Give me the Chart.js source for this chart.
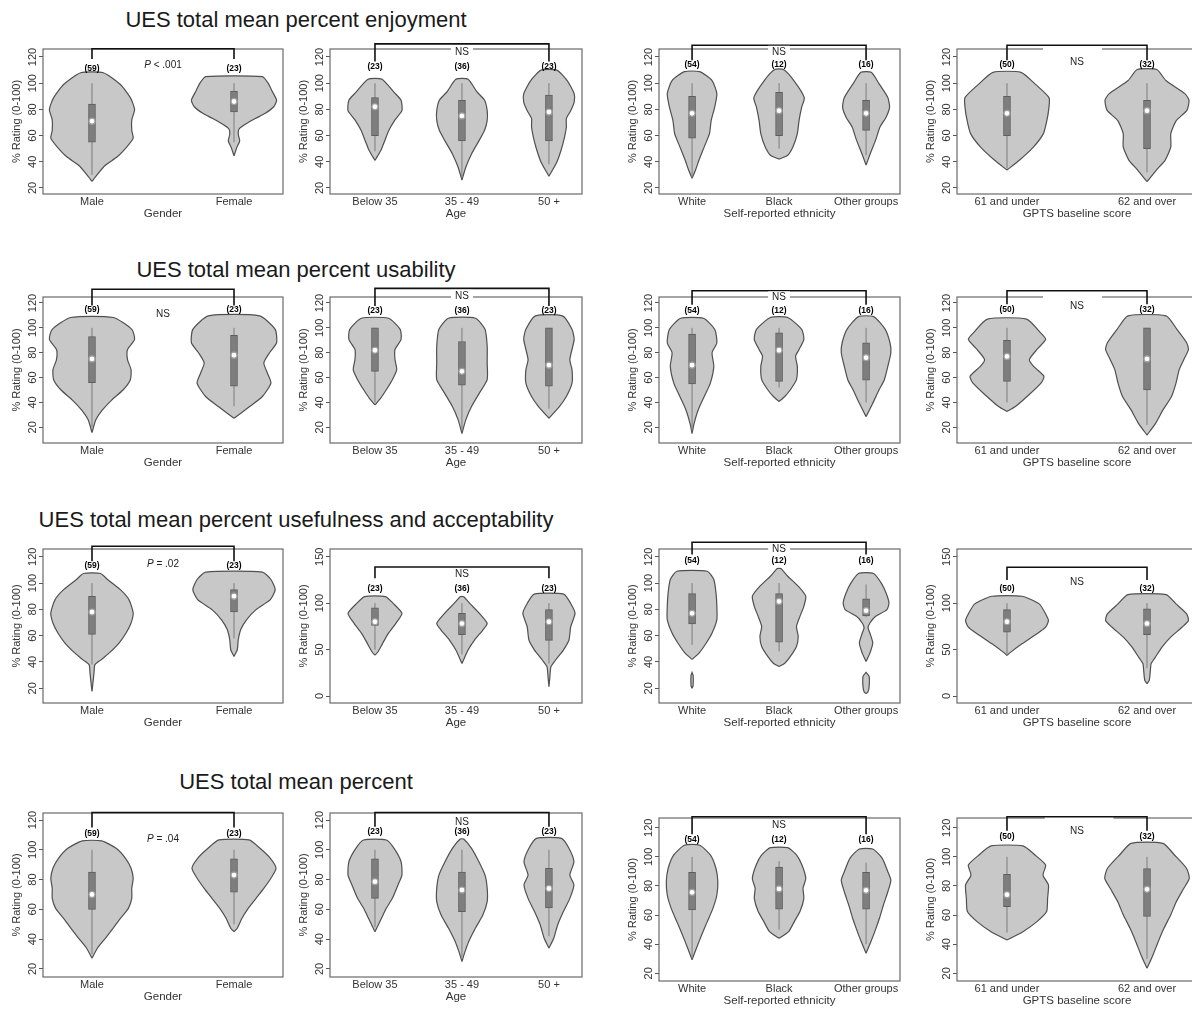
<!DOCTYPE html>
<html>
<head>
<meta charset="utf-8">
<title>UES violin plots</title>
<script src="https://cdn.jsdelivr.net/npm/chart.js@4.4.1/dist/chart.umd.min.js"></script>
<style>
  html, body { margin: 0; padding: 0; background: #fff; }
  body { width: 1192px; height: 1010px; overflow: hidden; position: relative;
         font-family: "Liberation Sans", Arial, sans-serif; }
  .row-title { position: absolute; font-size: 22px; color: #1a1a1a; white-space: nowrap;
               transform: translate(-50%, -50%); }
  .panel { position: absolute; }
</style>
</head>
<body>
<script>
// ---- categories / labels ----
const genderLabels = ['Male', 'Female'];
const ageLabels = ['Below 35', '35 - 49', '50 +'];
const ethnicityLabels = ['White', 'Black', 'Other groups'];
const gptsLabels = ['61 and under', '62 and over'];
const axisTitles = ['Gender', 'Age', 'Self-reported ethnicity', 'GPTS baseline score'];

const genderN = ['(59)', '(23)'];
const ageN = ['(23)', '(36)', '(23)'];
const ethnicityN = ['(54)', '(12)', '(16)'];
const gptsN = ['(50)', '(32)'];

const rowTitles = [
  'UES total mean percent enjoyment',
  'UES total mean percent usability',
  'UES total mean percent usefulness and acceptability',
  'UES total mean percent'
];
const enjoymentTests = ['P < .001', 'NS', 'NS', 'NS'];
const usabilityTests = ['NS', 'NS', 'NS', 'NS'];
const usefulnessTests = ['P = .02', 'NS', 'NS', 'NS'];
const totalTests = ['P = .04', 'NS', 'NS', 'NS'];

const ticks20 = [20, 40, 60, 80, 100, 120];
const ticks50 = [0, 50, 100, 150];

// ---- violin outlines: [rating, half width in group units], top to bottom; null = gap ----
// ---- boxes: [q1, q3, centre dot, whisker low, whisker high] ----

// enjoyment
const enjGenderViolins = [
  [[108,0.08],[99,0.2],[89,0.27],[80,0.3],[72,0.28],[64,0.28],[58,0.29],[52,0.25],[44,0.18],[37,0.09],[30,0.035],[25,0]],
  [[105,0.2],[100,0.24],[93.6,0.27],[87,0.3],[82,0.28],[77,0.22],[73,0.15],[69,0.085],[65,0.035],[61,0.03],[56,0.04],[51,0.02],[44.5,0]]
];
const enjGenderBoxes = [[55,84,71,30,100],[78,94,86,55,100]];
const enjAgeViolins = [
  [[103,0.08],[93,0.22],[87,0.3],[79,0.31],[72,0.23],[64,0.16],[56.5,0.115],[49,0.07],[41,0]],
  [[103,0.07],[93.6,0.17],[87,0.26],[79,0.29],[71.6,0.29],[64,0.26],[56.5,0.2],[46,0.11],[36,0.045],[26,0]],
  [[110,0.09],[102,0.21],[92,0.29],[85.5,0.29],[79,0.25],[73,0.2],[66.5,0.2],[59,0.18],[49,0.14],[39,0.086],[29,0]]
];
const enjAgeBoxes = [[60,89,82,48,100],[56,87,75,28,100],[56,91,78,38,100]];
const enjEthViolins = [
  [[108.8,0.087],[102,0.23],[92,0.285],[81.7,0.26],[71.6,0.22],[61.5,0.2],[51.4,0.14],[41.3,0.08],[33.7,0.04],[27.5,0]],
  [[110.4,0.05],[102,0.17],[89,0.29],[81.7,0.26],[71.6,0.23],[61.5,0.21],[51.4,0.16],[45,0.1],[42,0]],
  [[108.3,0.06],[99.5,0.15],[89,0.25],[81.7,0.27],[74,0.23],[66.5,0.16],[56.5,0.11],[46.5,0.05],[37.5,0]]
];
const enjEthBoxes = [[58,90,77,28,100],[60,93,79,50,100],[64,87,77,45,100]];
const enjGptsViolins = [
  [[108.3,0.1],[99.5,0.2],[89,0.3],[81.7,0.3],[71.6,0.285],[61.5,0.26],[51.4,0.19],[41.3,0.09],[33.7,0]],
  [[110.4,0.07],[102,0.135],[92,0.27],[87,0.3],[79.2,0.285],[71.6,0.21],[61.5,0.17],[51.4,0.17],[41.3,0.13],[33.7,0.067],[24.8,0]]
];
const enjGptsBoxes = [[60,90,77,35,100],[50,87,79,32,100]];

// usability
const useGenderViolins = [
  [[108.3,0.15],[98.8,0.28],[90.7,0.3],[82.6,0.25],[74.5,0.25],[66.4,0.275],[58.3,0.27],[50.2,0.22],[42.1,0.14],[34,0.074],[26,0.027],[15.7,0]],
  [[109.6,0.18],[98.8,0.29],[88,0.3],[80,0.25],[71.8,0.21],[63.7,0.235],[55.6,0.26],[44.8,0.2],[36.7,0.11],[27.3,0]]
];
const useGenderBoxes = [[56,93,75,20,100],[53,94,78,37,100]];
const useAgeViolins = [
  [[107.7,0.155],[98.8,0.29],[90.7,0.3],[82.6,0.23],[74.5,0.23],[66.4,0.25],[58.3,0.2],[50.2,0.13],[43.5,0.066],[38,0]],
  [[107.7,0.155],[98.8,0.265],[85.3,0.29],[71.8,0.29],[58.3,0.29],[47.5,0.2],[36.7,0.11],[26,0.044],[15,0]],
  [[109.6,0.155],[98.8,0.265],[90.7,0.29],[74.5,0.24],[66.4,0.265],[55.6,0.265],[44.8,0.2],[36.7,0.12],[27.3,0]]
];
const useAgeBoxes = [[65,100,82,40,100],[54,89,65,18,100],[53,100,70,35,100]];
const useEthViolins = [
  [[107.7,0.13],[98.8,0.26],[88,0.285],[80,0.23],[69,0.25],[55.6,0.21],[44.8,0.14],[34,0.07],[23,0.023],[15,0]],
  [[108.3,0.1],[98.8,0.26],[90.7,0.285],[82.6,0.23],[77.2,0.19],[69,0.21],[58.3,0.2],[50.2,0.13],[44.8,0.066],[40.8,0]],
  [[109,0.087],[98.8,0.22],[88,0.275],[80,0.285],[69,0.25],[58.3,0.21],[50.2,0.15],[39.4,0.077],[28.6,0]]
];
const useEthBoxes = [[55,95,70,17,100],[57,96,82,52,100],[58,88,76,40,100]];
const useGptsViolins = [
  [[107,0.14],[96,0.24],[90.7,0.276],[82.6,0.214],[74.5,0.16],[69,0.19],[61,0.264],[55.6,0.243],[44.8,0.143],[36.7,0.06],[32.7,0]],
  [[109.6,0.136],[98.8,0.214],[88,0.283],[82.6,0.296],[74.5,0.263],[66.4,0.23],[55.6,0.207],[44.8,0.175],[34,0.114],[23,0.06],[13.8,0]]
];
const useGptsBoxes = [[57,90,77,40,100],[50,100,75,22,100]];

// usefulness and acceptability
const usfGenderViolins = [
  [[107.3,0.06],[102.7,0.11],[95,0.2],[87.4,0.26],[77.3,0.29],[69.6,0.275],[62,0.24],[54.4,0.19],[46.7,0.12],[41.6,0.063],[37.8,0.02],[31.5,0.014],[17.5,0]],
  [[108.3,0.2],[102.7,0.26],[95,0.29],[87.4,0.256],[79.8,0.155],[72,0.088],[64.5,0.047],[56.9,0.03],[49.3,0.023],[44.2,0]]
];
const usfGenderBoxes = [[61,90,78,38,100],[78,95,90,58,100]];
const usfAgeViolins = [
  [[107,0.12],[99.7,0.21],[89,0.31],[78.2,0.24],[67.5,0.154],[56.7,0.088],[47.7,0.035],[44,0]],
  [[107,0.02],[99.7,0.09],[89,0.2],[78.2,0.29],[71,0.24],[60.3,0.144],[49.5,0.07],[35,0]],
  [[109.8,0.17],[99.7,0.25],[89,0.3],[74.6,0.25],[60.3,0.23],[49.5,0.166],[38.8,0.077],[31.6,0.023],[20,0.01],[10,0]]
];
const usfAgeBoxes = [[76,95,80,50,100],[66,89,78,45,100],[60,93,80,35,100]];
const usfEthViolins = [
  [[109,0.175],[102.7,0.25],[92.5,0.275],[82.3,0.285],[72.2,0.285],[62,0.23],[54.4,0.163],[46.7,0.08],[42,0], null,
   [32,0],[30,0.012],[22,0.012],[20,0]],
  [[111,0.02],[105.2,0.1],[97.6,0.22],[90,0.307],[82.3,0.285],[74.7,0.24],[67,0.2],[59.4,0.22],[51.8,0.2],[44.2,0.13],[39,0.066],[36.5,0]],
  [[107.3,0.087],[100,0.175],[92.5,0.23],[84.9,0.263],[79.8,0.24],[74.7,0.11],[69.6,0.044],[65.8,0.023],[62,0.044],[54.4,0.077],[46.7,0.044],[42,0.012],[40.4,0], null,
   [32,0],[29,0.035],[21,0.035],[17,0.02],[16,0]]
];
const usfEthBoxes = [[69,92,77,53,100],[55,92,86,48,100],[75,88,79,74,99]];
const usfGptsViolins = [
  [[107.4,0.107],[99.2,0.23],[88.4,0.276],[81.3,0.296],[74.1,0.276],[67,0.214],[56.2,0.107],[47.3,0.027],[43.7,0]],
  [[109.2,0.136],[99.2,0.207],[88.4,0.283],[81.3,0.296],[74.1,0.25],[63.4,0.169],[52.6,0.107],[41.9,0.06],[34.7,0.029],[27.6,0.024],[16.8,0.016],[13.2,0]]
];
const usfGptsBoxes = [[68.7,93,80,45,100],[66,93.8,78,30,100]];

// total
const totGenderViolins = [
  [[106,0.068],[101,0.17],[94.3,0.236],[87.6,0.275],[80.9,0.29],[74.1,0.28],[67.4,0.28],[60.7,0.256],[54,0.2],[47.3,0.148],[40.6,0.094],[33.9,0.038],[27.2,0]],
  [[106.6,0.106],[101,0.183],[94.3,0.256],[87.6,0.296],[80.9,0.26],[74.1,0.21],[67.4,0.155],[60.7,0.1],[54,0.056],[47.3,0.023],[45,0]]
];
const totGenderBoxes = [[60,85,70,30,100],[71.5,94,83,50,100]];
const totAgeViolins = [
  [[106.6,0.13],[101,0.22],[92,0.3],[83,0.31],[76.4,0.265],[67.4,0.2],[60.7,0.13],[54,0.075],[45,0]],
  [[107.2,0.02],[101,0.11],[92,0.195],[83,0.265],[74.1,0.29],[65.2,0.29],[56.2,0.24],[47.3,0.154],[38.3,0.077],[31.6,0.035],[25,0]],
  [[107.7,0.144],[101,0.23],[92,0.287],[83,0.24],[76.4,0.287],[67.4,0.24],[58.5,0.166],[49.5,0.1],[40.6,0.055],[33.9,0]]
];
const totAgeBoxes = [[67.4,94,78.6,48,100],[58.5,85,73,28,100],[61,87.6,74,42,100]];
const totEthViolins = [
  [[108,0.087],[101.3,0.21],[92,0.275],[83,0.296],[73.8,0.285],[64.6,0.24],[55.5,0.175],[46.3,0.11],[37.2,0.05],[29.2,0]],
  [[106.3,0.1],[101.3,0.2],[94.4,0.263],[85.2,0.307],[78.4,0.275],[71.5,0.285],[62.4,0.24],[55.5,0.175],[48.6,0.11],[44,0]],
  [[105.4,0.077],[99,0.186],[89.8,0.25],[84,0.285],[76,0.25],[67,0.2],[57.8,0.154],[48.6,0.1],[41.7,0.055],[33.7,0]]
];
const totEthBoxes = [[63.5,89.4,75.6,30,100],[64,93,78,50,97],[64,89.4,77,40,96]];
const totGptsViolins = [
  [[107.5,0.114],[101.3,0.2],[94.4,0.276],[87.5,0.257],[80.7,0.296],[71.5,0.29],[62.4,0.283],[55.5,0.214],[48.6,0.114],[42.9,0]],
  [[109.3,0.114],[101.3,0.196],[92,0.283],[85.2,0.302],[78.4,0.263],[69.2,0.209],[60,0.169],[50.9,0.121],[41.7,0.08],[32.6,0.043],[23.4,0]]
];
const totGptsBoxes = [[65.8,88,74,48,100],[59,92,77.7,30,100]];

// ---- tables built from the arrays above ----
const groupLabels = [genderLabels, ageLabels, ethnicityLabels, gptsLabels];
const groupCounts = [genderN, ageN, ethnicityN, gptsN];
const rowTests = [enjoymentTests, usabilityTests, usefulnessTests, totalTests];
const rowViolins = [
  [enjGenderViolins, enjAgeViolins, enjEthViolins, enjGptsViolins],
  [useGenderViolins, useAgeViolins, useEthViolins, useGptsViolins],
  [usfGenderViolins, usfAgeViolins, usfEthViolins, usfGptsViolins],
  [totGenderViolins, totAgeViolins, totEthViolins, totGptsViolins]
];
const rowBoxes = [
  [enjGenderBoxes, enjAgeBoxes, enjEthBoxes, enjGptsBoxes],
  [useGenderBoxes, useAgeBoxes, useEthBoxes, useGptsBoxes],
  [usfGenderBoxes, usfAgeBoxes, usfEthBoxes, usfGptsBoxes],
  [totGenderBoxes, totAgeBoxes, totEthBoxes, totGptsBoxes]
];

// ---- layout (pixels of the plot frames, axis ranges, annotation levels) ----
const TITLE_X = 296;
const TITLE_Y = [20, 270, 520, 782];
const COLS = [
  { left: 43, right: 283, xMin: 0.655, xMax: 2.345 },
  { left: 330, right: 582, xMin: 0.483, xMax: 3.38 },
  { left: 659, right: 900, xMin: 0.62, xMax: 3.39 },
  { left: 957, right: 1197, xMin: 0.643, xMax: 2.357 }
];
const r1 = { top: 49, bottom: 194, yMin: 15.4, yMax: 126.1, ticks: ticks20 };
const r2 = { top: 297, bottom: 443, yMin: 7.4, yMax: 124.8, ticks: ticks20 };
const r3a = { top: 549, bottom: 703, yMin: 8.8, yMax: 125.9, ticks: ticks20 };
const r3b = { top: 549, bottom: 703, yMin: -7.5, yMax: 158.3, ticks: ticks50 };
const r4a = { top: 813, bottom: 977, yMin: 14.6, yMax: 124.7, ticks: ticks20 };
const r4b = { top: 818, bottom: 981, yMin: 14.7, yMax: 126.7, ticks: ticks20 };
const FRAMES = [[r1, r1, r1, r1], [r2, r2, r2, r2], [r3a, r3b, r3a, r3b], [r4a, r4a, r4b, r4b]];

const NOTES = [
  [ { br: [126.3, 118.5], nY: 111, tx: 1.5, ty: 113.4 },
    { br: [130, 116.5], nY: 113, tx: 2, ty: 123.5, bg: true },
    { br: [129, 117.5], nY: 114, tx: 2, ty: 124, bg: true },
    { br: [129, 117.5], nY: 114, tx: 1.5, ty: 116, gap: [1.257, 1.679] } ],
  [ { br: [131, 118], nY: 115, tx: 1.5, ty: 111 },
    { br: [131.7, 117.5], nY: 114, tx: 2, ty: 125.8, bg: true },
    { br: [129.8, 118.5], nY: 113.7, tx: 2, ty: 124.5, bg: true },
    { br: [129.8, 119], nY: 115, tx: 1.5, ty: 117.7, gap: [1.257, 1.679] } ],
  [ { br: [128, 116.5], nY: 113, tx: 1.5, ty: 114 },
    { br: [139, 126.7], nY: 116, tx: 2, ty: 131.3 },
    { br: [131, 121.8], nY: 116.7, tx: 2, ty: 125.6, bg: true },
    { br: [138.6, 125], nY: 115.7, tx: 1.5, ty: 122.5 } ],
  [ { br: [125, 115], nY: 111, tx: 1.5, ty: 107 },
    { br: [125, 115.5], nY: 112, tx: 2, ty: 118.4 },
    { br: [127.6, 115.5], nY: 111.6, tx: 2, ty: 121.9 },
    { br: [127.6, 118], nY: 113.9, tx: 1.5, ty: 117.3, gap: [1.27, 1.76] } ]
];

const FONT = '"Liberation Sans", Arial, sans-serif';
const AXIS_W = 45, AXIS_H = 32, PAD_TOP = 30, PAD_RIGHT = 8;

Chart.defaults.font.family = FONT;

function splitPieces(profile) {
  const out = [[]];
  profile.forEach(p => { if (p === null) out.push([]); else out[out.length - 1].push(p); });
  return out.filter(p => p.length > 1);
}

// frame round the plot area, plus counts and test labels
const framePlugin = {
  id: 'frame',
  beforeDatasetsDraw(chart, args, opts) {
    const { ctx, chartArea: a, scales: { x } } = chart;
    ctx.save();
    ctx.strokeStyle = '#6a6a6a';
    ctx.lineWidth = 1.2;
    ctx.strokeRect(a.left, a.top, a.right - a.left, a.bottom - a.top);
    if (opts.gap) {
      ctx.strokeStyle = '#fff';
      ctx.lineWidth = 3;
      ctx.beginPath();
      ctx.moveTo(x.getPixelForValue(opts.gap[0]), a.top);
      ctx.lineTo(x.getPixelForValue(opts.gap[1]), a.top);
      ctx.stroke();
    }
    ctx.restore();
  },
  afterDatasetsDraw(chart, args, opts) {
    const { ctx, scales: { x, y } } = chart;
    ctx.save();
    ctx.textAlign = 'center';
    ctx.textBaseline = 'middle';
    ctx.fillStyle = '#000';
    ctx.font = 'bold 8.5px ' + FONT;
    opts.counts.forEach((t, i) => ctx.fillText(t, x.getPixelForValue(i + 1), y.getPixelForValue(opts.nY)));

    const tx = x.getPixelForValue(opts.tx), ty = y.getPixelForValue(opts.ty);
    ctx.font = '10px ' + FONT;
    const w = ctx.measureText(opts.test).width;
    if (opts.bg) {
      ctx.fillStyle = '#fff';
      ctx.fillRect(tx - w / 2 - 4, ty - 6, w + 8, 12);
    }
    ctx.fillStyle = '#222';
    if (opts.test.startsWith('P')) {
      const rest = opts.test.slice(1);
      ctx.font = 'italic 10px ' + FONT;
      const pw = ctx.measureText('P').width;
      ctx.font = '10px ' + FONT;
      const rw = ctx.measureText(rest).width;
      const x0 = tx - (pw + rw) / 2;
      ctx.textAlign = 'left';
      ctx.font = 'italic 10px ' + FONT;
      ctx.fillText('P', x0, ty);
      ctx.font = '10px ' + FONT;
      ctx.fillText(rest, x0 + pw, ty);
    } else {
      ctx.fillText(opts.test, tx, ty);
    }
    ctx.restore();
  }
};

function buildDatasets(violins, boxes, note) {
  const datasets = [];
  violins.forEach((profile, i) => {
    const c = i + 1;
    splitPieces(profile).forEach(piece => {
      const left = piece.slice().reverse().map(([v, w]) => ({ x: c - w, y: v }));
      const right = piece.map(([v, w]) => ({ x: c + w, y: v }));
      datasets.push({
        type: 'line', data: left.concat(right), fill: 'shape',
        backgroundColor: '#c8c8c8', borderColor: '#505050', borderWidth: 1.2,
        pointRadius: 0, tension: 0.2, order: 4
      });
    });
    const b = boxes[i];
    datasets.push({
      type: 'line', data: [{ x: c, y: b[3] }, { x: c, y: b[4] }],
      borderColor: '#7c7c7c', borderWidth: 1, pointRadius: 0, order: 3
    });
  });
  datasets.push({
    type: 'bar', data: boxes.map((b, i) => ({ x: i + 1, y: [b[0], b[1]] })),
    backgroundColor: '#7e7e7e', borderColor: '#5e5e5e', borderWidth: 1,
    borderSkipped: false, barThickness: 7, order: 2
  });
  datasets.push({
    type: 'line', showLine: false, data: boxes.map((b, i) => ({ x: i + 1, y: b[2] })),
    pointRadius: 3, pointBackgroundColor: '#fff', pointBorderColor: '#a0a0a0',
    pointBorderWidth: 1.2, order: 1
  });
  const n = boxes.length;
  datasets.push({
    type: 'line',
    data: [{ x: 1, y: note.br[1] }, { x: 1, y: note.br[0] }, { x: n, y: note.br[0] }, { x: n, y: note.br[1] }],
    borderColor: '#111', borderWidth: 1.6, pointRadius: 0, tension: 0, clip: false, order: 0
  });
  return datasets;
}

function addPanel(r, c) {
  const col = COLS[c], fr = FRAMES[r][c], note = NOTES[r][c];
  const labels = groupLabels[c];
  const w = (col.right - col.left) + AXIS_W + PAD_RIGHT;
  const h = PAD_TOP + (fr.bottom - fr.top) + AXIS_H;
  const holder = document.createElement('div');
  holder.className = 'panel';
  holder.style.left = (col.left - AXIS_W) + 'px';
  holder.style.top = (fr.top - PAD_TOP) + 'px';
  const canvas = document.createElement('canvas');
  canvas.width = w;
  canvas.height = h;
  canvas.style.width = w + 'px';
  canvas.style.height = h + 'px';
  holder.appendChild(canvas);
  document.body.appendChild(holder);

  new Chart(canvas, {
    type: 'line',
    data: { datasets: buildDatasets(rowViolins[r][c], rowBoxes[r][c], note) },
    options: {
      responsive: false,
      animation: false,
      events: [],
      layout: { padding: { top: PAD_TOP, right: PAD_RIGHT, left: 0, bottom: 0 } },
      plugins: {
        legend: { display: false },
        tooltip: { enabled: false },
        frame: { counts: groupCounts[c], test: rowTests[r][c], nY: note.nY, tx: note.tx, ty: note.ty, bg: note.bg, gap: note.gap }
      },
      scales: {
        x: {
          type: 'linear', min: col.xMin, max: col.xMax, offset: false,
          afterBuildTicks: s => { s.ticks = labels.map((_, i) => ({ value: i + 1 })); },
          afterFit: s => { s.height = AXIS_H; },
          ticks: {
            autoSkip: false, maxRotation: 0, minRotation: 0, padding: 1.5,
            color: '#333', font: { size: 11 },
            callback: v => labels[Math.round(v) - 1] || ''
          },
          grid: { display: false, drawTicks: false, offset: false },
          border: { display: false },
          title: { display: true, text: axisTitles[c], color: '#333', font: { size: 11.5 }, padding: { top: 0, bottom: 5 } }
        },
        y: {
          type: 'linear', min: fr.yMin, max: fr.yMax, beginAtZero: false,
          afterBuildTicks: s => { s.ticks = fr.ticks.map(v => ({ value: v })); },
          afterFit: s => { s.width = AXIS_W; },
          ticks: { minRotation: 90, maxRotation: 90, crossAlign: 'center', padding: -3, color: '#333', font: { size: 11 } },
          grid: { drawOnChartArea: false, drawTicks: true, tickLength: 4, color: '#555' },
          border: { display: false },
          title: { display: true, text: '% Rating (0-100)', color: '#333', font: { size: 11 }, padding: { top: 12, bottom: 0 } }
        }
      }
    },
    plugins: [framePlugin]
  });
}

rowTitles.forEach((t, r) => {
  const d = document.createElement('div');
  d.className = 'row-title';
  d.textContent = t;
  d.style.left = TITLE_X + 'px';
  d.style.top = TITLE_Y[r] + 'px';
  document.body.appendChild(d);
  for (let c = 0; c < 4; c++) addPanel(r, c);
});
</script>
</body>
</html>
